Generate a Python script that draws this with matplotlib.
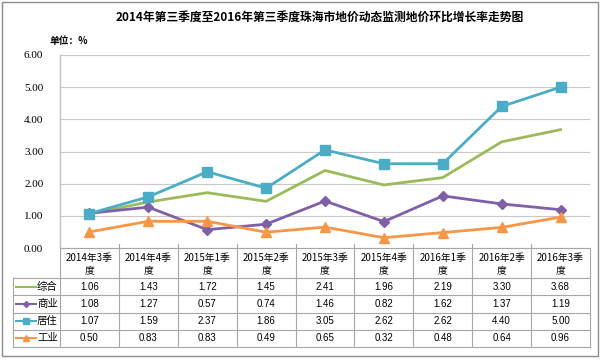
import matplotlib.pyplot as plt
from matplotlib.lines import Line2D
from matplotlib.patches import Rectangle

plt.rcParams['font.family'] = ['Noto Sans CJK SC', 'DejaVu Sans']

# data
quarters = ['2014年3季\n度', '2014年4季\n度', '2015年1季\n度', '2015年2季\n度', '2015年3季\n度',
            '2015年4季\n度', '2016年1季\n度', '2016年2季\n度', '2016年3季\n度']
names = ['综合', '商业', '居住', '工业']
zonghe = [1.06, 1.43, 1.72, 1.45, 2.41, 1.96, 2.19, 3.30, 3.68]
shangye = [1.08, 1.27, 0.57, 0.74, 1.46, 0.82, 1.62, 1.37, 1.19]
juzhu = [1.07, 1.59, 2.37, 1.86, 3.05, 2.62, 2.62, 4.40, 5.00]
gongye = [0.50, 0.83, 0.83, 0.49, 0.65, 0.32, 0.48, 0.64, 0.96]
yticks = [0, 1, 2, 3, 4, 5, 6]

series = [zonghe, shangye, juzhu, gongye]
colors = ['#9BBB59', '#7F60A8', '#4BACC6', '#F79646']
markers = [None, 'D', 's', '^']
msizes = [0, 5, 7, 7]

W, H = 600, 360
fig = plt.figure(figsize=(6, 3.6), dpi=100)

# outer border
fig.patches.append(Rectangle((2 / W, 4 / H), 596 / W, 354 / H, transform=fig.transFigure,
                             fill=False, edgecolor='#8c8c8c', linewidth=1.0))

fig.text(320 / W, 1 - 17 / H, '2014年第三季度至2016年第三季度珠海市地价动态监测地价环比增长率走势图',
         ha='center', va='center', fontsize=8.5, fontweight='bold')
fig.text(50 / W, 1 - 41 / H, '单位：%', ha='left', va='center', fontsize=7, fontweight='bold')

left, right, top, bottom = 60, 590, 55, 248
ax = fig.add_axes([left / W, 1 - bottom / H, (right - left) / W, (bottom - top) / H])
x = list(range(len(quarters)))
for vals, c, m, ms in zip(series, colors, markers, msizes):
    ax.plot(x, vals, color=c, linewidth=2, marker=m, markersize=ms, zorder=3)
ax.set_xlim(-0.5, len(quarters) - 0.5)
ax.set_ylim(0, 6)
ax.set_yticks(yticks)
ax.set_yticklabels(['%.2f' % v for v in yticks], fontfamily='Liberation Serif', fontsize=8)
ax.set_xticks([])
ax.grid(axis='y', color='#c8c8c8', linewidth=0.8)
ax.tick_params(axis='y', length=0, pad=12)
for s in ['top', 'right', 'bottom']:
    ax.spines[s].set_visible(False)
ax.spines['left'].set_color('#bfbfbf')
ax.spines['left'].set_linewidth(1)
ax.set_axisbelow(True)

# data table
tb_top, tb_bot, leg_left = 248, 347, 13
tax = fig.add_axes([0, 0, 1, 1], facecolor='none')
tax.set_xlim(0, W)
tax.set_ylim(H, 0)
tax.axis('off')
lc = '#a6a6a6'
colw = (right - left) / len(quarters)
hdr_bot = 278
rows_y = [hdr_bot + i * (tb_bot - hdr_bot) / 4 for i in range(5)]
# horizontal lines
tax.plot([left, right], [tb_top, tb_top], color=lc, lw=0.8)
for yy in rows_y:
    tax.plot([leg_left, right], [yy, yy], color=lc, lw=0.8)
# vertical lines
for i in range(len(quarters) + 1):
    xx = left + i * colw
    tax.plot([xx, xx], [tb_top - 4 if 0 < i < len(quarters) else tb_top, tb_bot], color=lc, lw=0.8)
tax.plot([leg_left, leg_left], [hdr_bot, tb_bot], color=lc, lw=0.8)

for i, q in enumerate(quarters):
    tax.text(left + (i + 0.5) * colw, (tb_top + hdr_bot) / 2 + 1, q, ha='center', va='center',
             fontsize=7, linespacing=1.3)
for r, (nm, vals, c, m) in enumerate(zip(names, series, colors, markers)):
    yc = (rows_y[r] + rows_y[r + 1]) / 2
    tax.add_line(Line2D([16, 36], [yc, yc], color=c, lw=1.5))
    if m:
        tax.plot([26], [yc], marker=m, color=c, markersize=4 if m != 'D' else 3)
    tax.text(37, yc, nm, ha='left', va='center', fontsize=7.5)
    for i, v in enumerate(vals):
        tax.text(left + (i + 0.5) * colw, yc, '%.2f' % v, ha='center', va='center', fontsize=7,
                 fontfamily=['Liberation Sans', 'DejaVu Sans'])

fig.savefig('out.png', dpi=100)
